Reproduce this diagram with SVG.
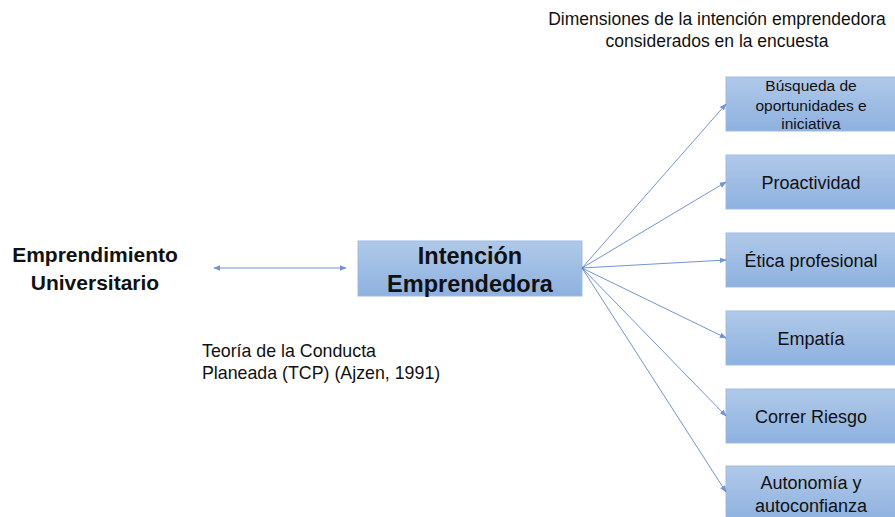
<svg xmlns="http://www.w3.org/2000/svg" width="895" height="517" viewBox="0 0 895 517">
<defs>
<linearGradient id="g" x1="0" y1="0" x2="0" y2="1">
<stop offset="0" stop-color="#b0c9e9"/>
<stop offset="1" stop-color="#8db1df"/>
</linearGradient>
<marker id="ah" viewBox="0 0 10 10" refX="9" refY="5" markerWidth="7" markerHeight="7" orient="auto-start-reverse" markerUnits="userSpaceOnUse">
<path d="M0,1 L10,5 L0,9 z" fill="#4472c4"/>
</marker>
<style>
.box{fill:url(#g);stroke:#9dbbe3;stroke-width:1}
.t{font-family:"Liberation Sans",Arial,sans-serif;fill:#111;text-anchor:middle}
.s{text-anchor:start}
.b{font-weight:bold}
.c{stroke:#4472c4;stroke-width:1;fill:none;marker-end:url(#ah);opacity:0.75}
</style>
</defs>
<rect width="895" height="517" fill="#fff"/>
<g id="title">
<text class="t" x="717" y="25" font-size="17.5">Dimensiones de la intención emprendedora</text>
<text class="t" x="717" y="47" font-size="17.5">considerados en la encuesta</text>
</g>
<g id="emprendimiento">
<text class="t b" x="95" y="262" font-size="21">Emprendimiento</text>
<text class="t b" x="95" y="290" font-size="21">Universitario</text>
</g>
<g id="tcp">
<text class="t s" x="202" y="357" font-size="17.8">Teoría de la Conducta</text>
<text class="t s" x="202" y="379" font-size="17.8">Planeada (TCP) (Ajzen, 1991)</text>
</g>
<g id="intencion">
<rect class="box" x="358" y="241" width="224" height="55"/>
<text class="t b" x="470" y="264" font-size="23.5">Intención</text>
<text class="t b" x="470" y="292" font-size="23.5">Emprendedora</text>
</g>
<g id="busqueda">
<rect class="box" x="726" y="77" width="175" height="54"/>
<text class="t" x="811" y="91" font-size="15.5">Búsqueda de</text>
<text class="t" x="811" y="111" font-size="15.5">oportunidades  e</text>
<text class="t" x="811" y="129" font-size="15.5">iniciativa</text>
</g>
<g id="proactividad">
<rect class="box" x="726" y="155" width="175" height="54"/>
<text class="t" x="811" y="189" font-size="18">Proactividad</text>
</g>
<g id="etica">
<rect class="box" x="726" y="233" width="175" height="54"/>
<text class="t" x="811" y="267" font-size="18">Ética profesional</text>
</g>
<g id="empatia">
<rect class="box" x="726" y="311" width="175" height="54"/>
<text class="t" x="811" y="345" font-size="18">Empatía</text>
</g>
<g id="riesgo">
<rect class="box" x="726" y="389" width="175" height="54"/>
<text class="t" x="811" y="423" font-size="18">Correr Riesgo</text>
</g>
<g id="autonomia">
<rect class="box" x="726" y="466" width="175" height="56"/>
<text class="t" x="811" y="489" font-size="18">Autonomía y</text>
<text class="t" x="811" y="512" font-size="18">autoconfianza</text>
</g>
<g id="connectors">
<line class="c" x1="214" y1="268" x2="346" y2="268" style="marker-start:url(#ah)"/>
<line class="c" x1="582" y1="268" x2="726" y2="104"/>
<line class="c" x1="582" y1="268" x2="726" y2="182"/>
<line class="c" x1="582" y1="268" x2="726" y2="260"/>
<line class="c" x1="582" y1="268" x2="726" y2="338"/>
<line class="c" x1="582" y1="268" x2="726" y2="416"/>
<line class="c" x1="582" y1="268" x2="726" y2="492"/>
</g>
</svg>
